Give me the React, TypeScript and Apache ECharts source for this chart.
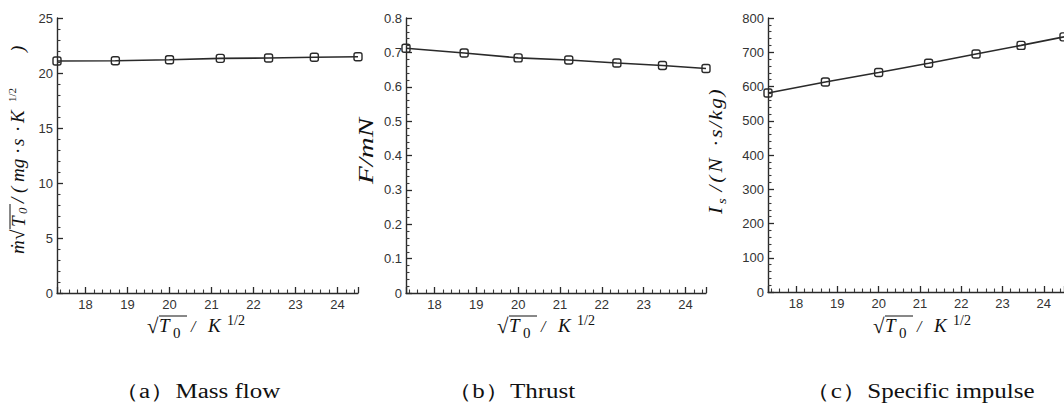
import React, { useEffect, useRef } from "react";
import * as echarts from "echarts";

// sqrt(T0) values at which the points were computed
const sqrtT0 = [17.32, 18.71, 20.0, 21.21, 22.36, 23.45, 24.49];
const massFlow = [21.09, 21.12, 21.2, 21.33, 21.36, 21.43, 21.48];
const thrust = [0.712, 0.698, 0.684, 0.678, 0.669, 0.662, 0.653];
const impulse = [581, 613, 641, 668, 695, 720, 745];

const xMin = 17.32;
const xMax = 24.49;
const yMaxes = [25, 0.8, 800];
const yIntervals = [5, 0.1, 100];
const captions = ["（a）Mass flow", "（b）Thrust", "（c）Specific impulse"];

const SERIF = "Liberation Serif";
const SANS = "Liberation Sans";
const INK = "#2a2a2a";

function tx(text: string, x: number, y: number, size: number, italic = false, extra: any = {}) {
  return {
    type: "text",
    x,
    y,
    silent: true,
    style: {
      text,
      fontSize: size,
      fontFamily: SERIF,
      fontStyle: italic ? "italic" : "normal",
      fill: "#111",
      align: "left",
      verticalAlign: "top",
      ...extra,
    },
  };
}

function xTitle(x0: number, y0: number) {
  return {
    type: "group",
    x: x0,
    y: y0,
    children: [
      tx("√", 0, 1, 21),
      { type: "line", silent: true, shape: { x1: 12, y1: 2, x2: 40, y2: 2 }, style: { stroke: "#111", lineWidth: 1 } },
      tx("T", 12, 2, 19, true),
      tx("0", 26, 11, 15),
      tx("/", 44, 4, 16, true),
      tx("K", 61, 2, 19, true),
      tx("1/2", 80, -1, 14),
    ],
  };
}

function yTitleA() {
  return {
    type: "group",
    x: 8,
    y: 254,
    rotation: Math.PI / 2,
    children: [
      tx("ṁ", 0, 0, 19, true),
      tx("√", 14, 0, 19),
      { type: "line", silent: true, shape: { x1: 25, y1: 2, x2: 50, y2: 2 }, style: { stroke: "#111", lineWidth: 1 } },
      tx("T", 27, 1, 19, true),
      tx("0", 40, 8, 13, true),
      tx("/", 51, 0, 19, true),
      tx("(", 61, 0, 19, true),
      tx("mg", 72, 0, 19, true),
      tx("·", 100, 0, 19),
      tx("s", 108, 0, 19, true),
      tx("·", 122, 0, 19),
      tx("K", 131, 0, 19, true),
      tx("1/2", 152, -2, 11),
      tx(")", 202, 0, 19, true),
    ],
  };
}

function yTitleB() {
  return {
    type: "group",
    x: 356,
    y: 184,
    rotation: Math.PI / 2,
    scaleX: 1.45,
    children: [tx("F/mN", 0, 0, 20, true)],
  };
}

function yTitleC() {
  return {
    type: "group",
    x: 706,
    y: 214,
    rotation: Math.PI / 2,
    scaleX: 1.12,
    children: [
      tx("I", 0, 0, 19, true),
      tx("s", 9, 9, 13, true),
      tx("/", 20, 0, 19, true),
      tx("(", 28, 0, 19, true),
      tx("N", 37, 0, 19, true),
      tx("·", 60, 0, 19),
      tx("s", 68, 0, 19, true),
      tx("/", 77, 0, 19, true),
      tx("k", 84, 0, 19, true),
      tx("g", 94, 0, 19, true),
      tx(")", 105, 0, 19, true),
    ],
  };
}

function caption(text: string, cx: number) {
  return {
    type: "text",
    x: cx,
    y: 381,
    scaleX: 1.25,
    silent: true,
    style: {
      text,
      fontSize: 20,
      fontFamily: SERIF,
      fill: "#111",
      align: "center",
      verticalAlign: "top",
    },
  };
}

const grids = [
  { left: 57, top: 18, width: 301, height: 275 },
  { left: 406, top: 18, width: 300, height: 275 },
  { left: 768, top: 18, width: 300, height: 274 },
];

export default function App() {
  const ref = useRef<HTMLDivElement>(null);
  useEffect(() => {
    if (!ref.current) return;
    const chart = echarts.init(ref.current, null, { renderer: "svg" });
    const seriesData = [massFlow, thrust, impulse];
    const option: any = {
      animation: false,
      backgroundColor: "#fff",
      grid: grids,
      xAxis: grids.map((_, i) => ({
        type: "value",
        gridIndex: i,
        min: xMin,
        max: xMax,
        minInterval: 1,
        maxInterval: 1,
        splitNumber: 7,
        axisLine: { show: true, onZero: false, lineStyle: { color: INK, width: 1.4 } },
        axisTick: { show: true, inside: true, length: 6, lineStyle: { color: INK, width: 1.3 } },
        minorTick: { show: true, splitNumber: 5, length: 3.5, lineStyle: { color: "#3a3a3a", width: 1.1 } },
        splitLine: { show: false },
        axisLabel: {
          showMinLabel: false,
          showMaxLabel: false,
          color: "#333",
          fontSize: 13,
          fontFamily: SANS,
          margin: 5,
        },
      })),
      yAxis: grids.map((_, i) => ({
        type: "value",
        gridIndex: i,
        min: 0,
        max: yMaxes[i],
        interval: yIntervals[i],
        axisLine: { show: true, onZero: false, lineStyle: { color: INK, width: 1.4 } },
        axisTick: { show: true, inside: true, length: 6, lineStyle: { color: INK, width: 1.3 } },
        minorTick: { show: true, splitNumber: 5, length: 3.5, lineStyle: { color: "#3a3a3a", width: 1.1 } },
        splitLine: { show: false },
        axisLabel: { color: "#333", fontSize: 13, fontFamily: SANS, margin: 4 },
      })),
      series: seriesData.map((vals, i) => ({
        type: "line",
        xAxisIndex: i,
        yAxisIndex: i,
        clip: false,
        symbol: "roundRect",
        symbolSize: 8,
        showAllSymbol: true,
        itemStyle: { color: "rgba(255,255,255,0)", borderColor: INK, borderWidth: 1.4 },
        lineStyle: { color: INK, width: 1.6 },
        data: sqrtT0.map((x, k) => [x, vals[k]]),
      })),
      graphic: [
        xTitle(147, 314),
        xTitle(497, 314),
        xTitle(873, 314),
        yTitleA(),
        yTitleB(),
        yTitleC(),
        caption(captions[0], 197),
        caption(captions[1], 511),
        caption(captions[2], 920),
      ],
    };
    chart.setOption(option);
    return () => chart.dispose();
  }, []);
  return (
    <div
      ref={ref}
      style={{ position: "absolute", left: 0, top: 0, width: 1064, height: 403, background: "#fff" }}
    />
  );
}
